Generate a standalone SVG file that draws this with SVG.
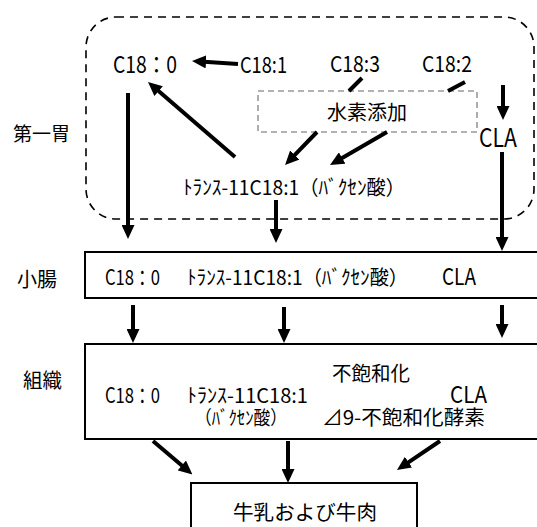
<svg xmlns="http://www.w3.org/2000/svg" width="537" height="527" viewBox="0 0 537 527">
<style>
.t{font-family:"Noto Sans CJK JP","DejaVu Sans",sans-serif;fill:#000;}
.a{stroke:#000;stroke-width:4;fill:none;marker-end:url(#ah);}
.l{stroke:#000;stroke-width:4;fill:none;}
.box{fill:#fff;stroke:#000;stroke-width:2;}
</style>
<defs>
<marker id="ah" markerUnits="userSpaceOnUse" markerWidth="14" markerHeight="13" viewBox="0 0 14 13" refX="2" refY="6.5" orient="auto">
<path d="M0,0 L14,6.5 L0,13 z" fill="#000"/>
</marker>
</defs>
<rect width="537" height="527" fill="#fff"/>

<g id="labels">
<text class="t" x="13" y="141" font-size="19" textLength="57" lengthAdjust="spacingAndGlyphs">第一胃</text>
<text class="t" x="17" y="287" font-size="20" textLength="40" lengthAdjust="spacingAndGlyphs">小腸</text>
<text class="t" x="23" y="388" font-size="20" textLength="39" lengthAdjust="spacingAndGlyphs">組織</text>
</g>

<g id="rumen">
<rect x="86" y="17" width="448" height="202" rx="30" ry="30" fill="none" stroke="#000" stroke-width="1.6" stroke-dasharray="8 6"/>
<text class="t" x="113" y="73" font-size="23" textLength="64" lengthAdjust="spacingAndGlyphs">C18：0</text>
<text class="t" x="240" y="73" font-size="22" textLength="47" lengthAdjust="spacingAndGlyphs">C18:1</text>
<text class="t" x="330" y="72" font-size="22" textLength="50" lengthAdjust="spacingAndGlyphs">C18:3</text>
<text class="t" x="422" y="72" font-size="22" textLength="50" lengthAdjust="spacingAndGlyphs">C18:2</text>
<text class="t" x="479" y="147" font-size="25" textLength="38" lengthAdjust="spacingAndGlyphs">CLA</text>
<text class="t" x="183" y="195" font-size="20" textLength="222" lengthAdjust="spacingAndGlyphs">ﾄﾗﾝｽ-11C18:1（ﾊﾞｸｾﾝ酸）</text>
</g>

<g id="hydrogenation">
<rect x="258" y="91" width="219" height="41" fill="none" stroke="#999" stroke-width="1.6" stroke-dasharray="6 4"/>
<text class="t" x="327" y="120" font-size="20" textLength="80" lengthAdjust="spacingAndGlyphs">水素添加</text>
</g>

<g id="small-intestine">
<rect class="box" x="85" y="252" width="460" height="46"/>
<text class="t" x="105" y="285" font-size="21" textLength="55" lengthAdjust="spacingAndGlyphs">C18：0</text>
<text class="t" x="187" y="285" font-size="20" textLength="221" lengthAdjust="spacingAndGlyphs">ﾄﾗﾝｽ-11C18:1（ﾊﾞｸｾﾝ酸）</text>
<text class="t" x="442" y="285" font-size="23" textLength="34" lengthAdjust="spacingAndGlyphs">CLA</text>
</g>

<g id="tissue">
<rect class="box" x="85" y="344" width="460" height="95"/>
<text class="t" x="332" y="381" font-size="20" textLength="78" lengthAdjust="spacingAndGlyphs">不飽和化</text>
<text class="t" x="105" y="403" font-size="21" textLength="55" lengthAdjust="spacingAndGlyphs">C18：0</text>
<text class="t" x="187" y="403" font-size="20" textLength="121" lengthAdjust="spacingAndGlyphs">ﾄﾗﾝｽ-11C18:1</text>
<text class="t" x="450" y="403" font-size="23" textLength="37" lengthAdjust="spacingAndGlyphs">CLA</text>
<text class="t" x="195" y="425" font-size="19" textLength="92" lengthAdjust="spacingAndGlyphs">（ﾊﾞｸｾﾝ酸）</text>
<text class="t" x="322" y="425" font-size="20" textLength="163" lengthAdjust="spacingAndGlyphs">⊿9-不飽和化酵素</text>
</g>

<g id="products">
<rect class="box" x="191" y="483" width="226" height="60"/>
<text class="t" x="233" y="520" font-size="20" textLength="144" lengthAdjust="spacingAndGlyphs">牛乳および牛肉</text>
</g>

<g id="connectors">
<line class="a" x1="238" y1="64" x2="204" y2="61.8"/>
<line class="a" x1="235" y1="157" x2="157.1" y2="89.8"/>
<line class="a" x1="128" y1="93" x2="128" y2="227"/>
<line class="a" x1="276" y1="200" x2="276" y2="231"/>
<line class="l" x1="362" y1="78" x2="349" y2="91"/>
<line class="l" x1="465" y1="82" x2="448" y2="91"/>
<line class="a" x1="317" y1="132" x2="293.4" y2="156.4"/>
<line class="a" x1="387" y1="132" x2="340.4" y2="159"/>
<line class="a" x1="503" y1="85" x2="503" y2="108"/>
<line class="a" x1="502" y1="152" x2="502" y2="239" stroke-width="2.5"/>
<line class="a" x1="133" y1="305" x2="133" y2="331"/>
<line class="a" x1="284" y1="307" x2="284" y2="331"/>
<line class="a" x1="502" y1="305" x2="502" y2="326"/>
<line class="a" x1="153" y1="441" x2="183.3" y2="466.8"/>
<line class="a" x1="288" y1="441" x2="288" y2="471"/>
<line class="a" x1="440" y1="441" x2="406.9" y2="463.3"/>
</g>
</svg>
